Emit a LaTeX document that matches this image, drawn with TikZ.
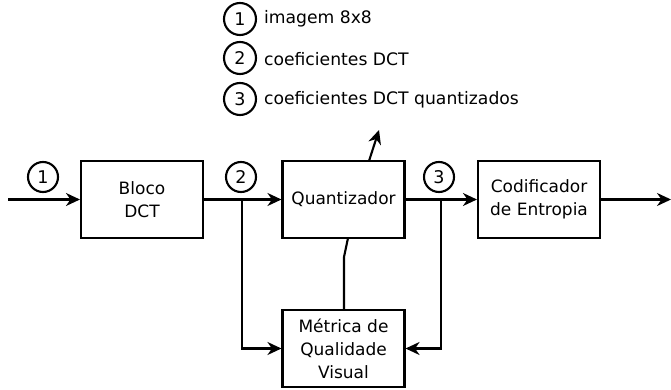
\documentclass[tikz,border=0pt]{standalone}
\usepackage{fontspec}
\setmainfont{DejaVu Sans}
\usetikzlibrary{arrows.meta}
\begin{document}
\begin{tikzpicture}[x=1pt,y=-1pt,
  line width=2.1pt,
  blockbox/.style={draw,rectangle,minimum width=122pt,minimum height=77pt,
    align=center,font=\fontsize{17}{23}\selectfont,inner sep=0pt},
  numcirc/.style={draw,circle,minimum size=30pt,inner sep=0pt,
    font=\fontsize{17.5}{18}\selectfont},
  legtext/.style={anchor=west,inner sep=0pt,font=\fontsize{17.2}{18}\selectfont},
  arr/.style={-{Stealth[length=14pt,width=13pt,inset=4.5pt]}}]
\useasboundingbox (0,0) rectangle (671,390);

% legend
\node[numcirc,minimum size=32pt] (l1) at (240,19) {1};
\node[numcirc,minimum size=32pt] (l2) at (240,58) {2};
\node[numcirc,minimum size=32pt] (l3) at (240,99) {3};
\node[legtext] (t1) at (263,19) {imagem 8x8};
\node[legtext] (t2) at (263,59) {coeficientes DCT};
\node[legtext] (t3) at (263,100) {coeficientes DCT quantizados};

% blocks
\node[blockbox] (dct) at (142,199.5) {Bloco\\DCT};
\node[blockbox] (q) at (343.5,199.5) {Quantizador};
\node[blockbox] (ce) at (539,199.5) {Codificador\\de Entropia};
\node[blockbox] (m) at (343.5,348.5) {Métrica de\\Qualidade\\Visual};

% signal markers
\node[numcirc] (c1) at (43,177) {1};
\node[numcirc] (c2) at (241,177) {2};
\node[numcirc] (c3) at (439,177) {3};

% helper points
\coordinate (in) at (8,199.5);
\coordinate (out) at (671,199.5);
\coordinate (b2) at (242,199.5);
\coordinate (b3) at (441,199.5);
\coordinate (kink) at (344,257);
\coordinate (qb) at (348,238);
\coordinate (qt) at (369,161);
\coordinate (up) at (379,130);

% connectors
\draw[arr] (in) -- (dct.west);
\draw[arr] (dct.east) -- (q.west);
\draw[arr] (q.east) -- (ce.west);
\draw[arr] (ce.east) -- (out);
\draw[arr] (b2) |- (m.west);
\draw[arr] (b3) |- (m.east);
\draw (m.north -| kink) -- (kink) -- (qb);
\draw[arr] (qt) -- (up);
\end{tikzpicture}
\end{document}
